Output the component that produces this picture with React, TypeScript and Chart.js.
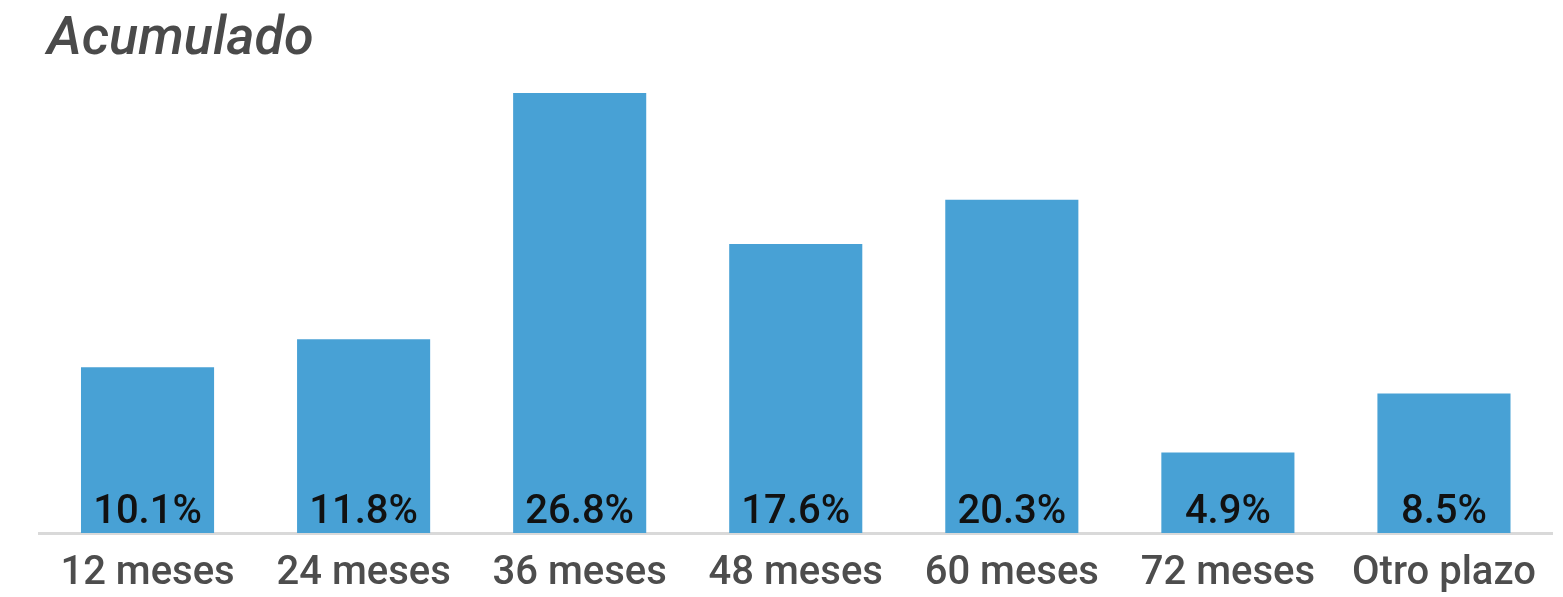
import React, { useEffect, useRef } from "react";
import { Chart, registerables } from "chart.js";

Chart.register(...registerables);

const categories = ["12 meses", "24 meses", "36 meses", "48 meses", "60 meses", "72 meses", "Otro plazo"];
const values = [10.1, 11.8, 26.8, 17.6, 20.3, 4.9, 8.5];
const valueLabels = ["10.1%", "11.8%", "26.8%", "17.6%", "20.3%", "4.9%", "8.5%"];
const titleText = "Acumulado";

const BAR_COLOR = "#48a1d5";

const overlayPlugin = {
  id: "overlay",
  afterDatasetsDraw(chart: any) {
    const ctx = chart.ctx;
    const meta = chart.getDatasetMeta(0);
    const yBase = chart.scales.y.getPixelForValue(0);
    ctx.save();
    ctx.font = "500 40px Roboto";
    ctx.fillStyle = "#111111";
    ctx.textAlign = "center";
    ctx.textBaseline = "alphabetic";
    meta.data.forEach((bar: any, i: number) => {
      ctx.fillText(valueLabels[i], bar.x, yBase - 10);
    });
    ctx.font = "italic 500 54px Roboto";
    ctx.fillStyle = "#4a4a4a";
    ctx.textAlign = "left";
    ctx.fillText(titleText, 47, 54);
    ctx.restore();
  },
};

export default function App() {
  const ref = useRef<HTMLCanvasElement>(null);
  useEffect(() => {
    const chart = new Chart(ref.current!, {
      type: "bar",
      data: {
        labels: categories,
        datasets: [
          {
            data: values,
            backgroundColor: BAR_COLOR,
            barPercentage: 0.616,
            categoryPercentage: 1,
          },
        ],
      },
      options: {
        animation: false,
        responsive: false,
        devicePixelRatio: 1,
        layout: { padding: { left: 39.5, right: 11, top: 40.4, bottom: 0 } },
        plugins: { legend: { display: false }, tooltip: { enabled: false }, title: { display: false } },
        scales: {
          x: {
            grid: { display: false, drawTicks: false },
            border: { display: true, color: "#d9d9d9", width: 3 },
            ticks: {
              color: "#4d4d4d",
              font: { family: "Roboto", size: 40, weight: 500, lineHeight: 1.15 },
              padding: 18,
              maxRotation: 0,
            },
          },
          y: { display: false, min: 0, max: 30 },
        },
      },
      plugins: [overlayPlugin],
    });
    return () => chart.destroy();
  }, []);
  return (
    <div style={{ position: "absolute", left: 0, top: 0, width: 1563, height: 597, overflow: "hidden", background: "#fff" }}>
      <canvas ref={ref} width={1563} height={615} style={{ display: "block" }} />
    </div>
  );
}
